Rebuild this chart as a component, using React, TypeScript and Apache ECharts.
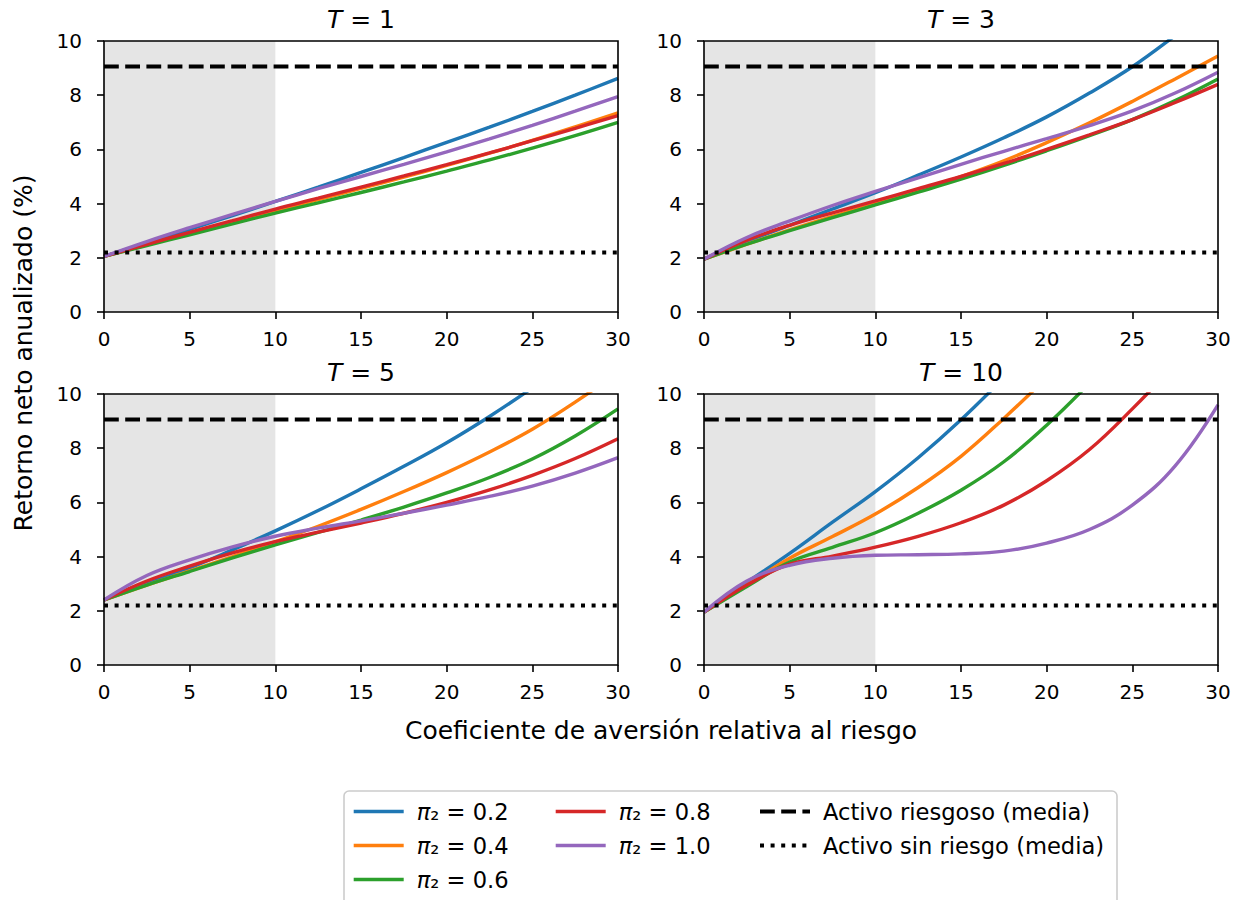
import React, { useEffect, useRef } from 'react';
import * as echarts from 'echarts';

const FONT = 'DejaVu Sans';

// x values (coeficiente de aversión relativa al riesgo)
const XS = [0, 2.5, 5, 7.5, 10, 12.5, 15, 17.5, 20, 22.5, 25, 27.5, 30];

const SERIES_NAMES = ['π₂ = 0.2', 'π₂ = 0.4', 'π₂ = 0.6', 'π₂ = 0.8', 'π₂ = 1.0'];
const COLORS = ['#1f77b4', '#ff7f0e', '#2ca02c', '#d62728', '#9467bd'];
const RISKY_NAME = 'Activo riesgoso (media)';
const RISKFREE_NAME = 'Activo sin riesgo (media)';
const RISKY_MEAN = 9.06;
const RISKFREE_MEAN = 2.2;
const PANEL_T = ['1', '3', '5', '10'];

// T = 1
const T1_P02 = [2.05, 2.55, 3.05, 3.56, 4.08, 4.61, 5.15, 5.7, 6.26, 6.82, 7.4, 8.0, 8.62];
const T1_P04 = [2.05, 2.48, 2.9, 3.32, 3.74, 4.15, 4.56, 4.98, 5.41, 5.86, 6.33, 6.83, 7.35];
const T1_P06 = [2.05, 2.45, 2.85, 3.25, 3.65, 4.03, 4.41, 4.8, 5.2, 5.61, 6.05, 6.51, 7.0];
const T1_P08 = [2.05, 2.5, 2.94, 3.37, 3.8, 4.2, 4.61, 5.02, 5.44, 5.87, 6.32, 6.78, 7.25];
const T1_P10 = [2.05, 2.6, 3.11, 3.6, 4.08, 4.55, 5.0, 5.45, 5.91, 6.39, 6.89, 7.41, 7.95];

// T = 3
const T3_P02 = [1.95, 2.6, 3.2, 3.8, 4.4, 5.05, 5.72, 6.43, 7.2, 8.08, 9.05, 10.2, 11.4];
const T3_P04 = [1.95, 2.5, 3.03, 3.53, 4.0, 4.48, 5.0, 5.58, 6.25, 6.98, 7.77, 8.6, 9.45];
const T3_P06 = [1.95, 2.5, 3.0, 3.48, 3.95, 4.42, 4.9, 5.41, 5.95, 6.51, 7.1, 7.8, 8.6];
const T3_P08 = [1.95, 2.65, 3.2, 3.66, 4.1, 4.55, 5.0, 5.48, 6.0, 6.54, 7.1, 7.73, 8.4];
const T3_P10 = [1.95, 2.75, 3.36, 3.93, 4.45, 4.95, 5.45, 5.93, 6.4, 6.88, 7.42, 8.08, 8.85];

// T = 5
const T5_P02 = [2.4, 3.0, 3.58, 4.25, 4.95, 5.7, 6.5, 7.33, 8.2, 9.17, 10.23, 11.4, null];
const T5_P04 = [2.4, 2.95, 3.47, 4.0, 4.55, 5.12, 5.74, 6.4, 7.1, 7.86, 8.7, 9.7, 10.8];
const T5_P06 = [2.4, 2.95, 3.45, 3.95, 4.43, 4.89, 5.35, 5.83, 6.35, 6.92, 7.6, 8.45, 9.45];
const T5_P08 = [2.4, 3.1, 3.65, 4.14, 4.55, 4.9, 5.24, 5.6, 6.0, 6.46, 7.0, 7.62, 8.35];
const T5_P10 = [2.4, 3.3, 3.88, 4.36, 4.75, 5.05, 5.32, 5.6, 5.9, 6.22, 6.6, 7.08, 7.65];

// T = 10
const T10_P02 = [1.95, 3.05, 4.12, 5.27, 6.4, 7.65, 9.05, 10.6, null, null, null, null, null];
const T10_P04 = [1.95, 2.95, 3.94, 4.74, 5.57, 6.55, 7.7, 9.1, 10.6, null, null, null, null];
const T10_P06 = [1.95, 2.9, 3.8, 4.34, 4.88, 5.6, 6.45, 7.5, 8.85, 10.4, null, null, null];
const T10_P08 = [1.95, 2.95, 3.72, 4.02, 4.35, 4.75, 5.25, 5.9, 6.8, 7.95, 9.45, 11.1, null];
const T10_P10 = [1.95, 3.1, 3.68, 3.94, 4.05, 4.07, 4.1, 4.2, 4.5, 5.0, 5.9, 7.35, 9.6];

const PANELS = [
  [T1_P02, T1_P04, T1_P06, T1_P08, T1_P10],
  [T3_P02, T3_P04, T3_P06, T3_P08, T3_P10],
  [T5_P02, T5_P04, T5_P06, T5_P08, T5_P10],
  [T10_P02, T10_P04, T10_P06, T10_P08, T10_P10],
];

const GRID_POS = [
  { left: 104, top: 41 },
  { left: 704, top: 41 },
  { left: 104, top: 394 },
  { left: 704, top: 394 },
];
const GRID_W = 514;
const GRID_H = 271;

function buildOption() {
  const grid = GRID_POS.map((p) => ({
    left: p.left,
    top: p.top,
    width: GRID_W,
    height: GRID_H,
    show: true,
    z: 3,
    borderColor: '#000',
    borderWidth: 1.6,
    backgroundColor: 'transparent',
    containLabel: false,
  }));
  const axisLabelStyle = { color: '#000', fontSize: 20, fontFamily: FONT };
  const xAxis = GRID_POS.map((_, i) => ({
    type: 'value',
    gridIndex: i,
    min: 0,
    max: 30,
    interval: 5,
    splitLine: { show: false },
    axisLine: { show: false },
    axisTick: { show: true, length: 7, lineStyle: { color: '#000', width: 1.6 } },
    axisLabel: { ...axisLabelStyle, margin: 17 },
  }));
  const yAxis = GRID_POS.map((_, i) => ({
    type: 'value',
    gridIndex: i,
    min: 0,
    max: 10,
    interval: 2,
    splitLine: { show: false },
    axisLine: { show: false },
    axisTick: { show: true, length: 7, lineStyle: { color: '#000', width: 1.6 } },
    axisLabel: { ...axisLabelStyle, margin: 22 },
  }));

  const series: any[] = [];
  PANELS.forEach((panel, g) => {
    series.push({
      type: 'line',
      name: 'shade',
      xAxisIndex: g,
      yAxisIndex: g,
      data: [],
      silent: true,
      z: 1,
      markArea: {
        silent: true,
        itemStyle: { color: '#e5e5e5' },
        data: [[{ xAxis: 0 }, { xAxis: 10 }]],
      },
    });
    panel.forEach((ys, k) => {
      series.push({
        type: 'line',
        name: SERIES_NAMES[k],
        xAxisIndex: g,
        yAxisIndex: g,
        symbol: 'none',
        smooth: 0.4,
        clip: true,
        z: 2,
        lineStyle: { color: COLORS[k], width: 3.4 },
        itemStyle: { color: COLORS[k] },
        data: XS.map((x, i) => [x, ys[i]]).filter((d) => d[1] !== null),
      });
    });
    series.push({
      type: 'line',
      name: RISKY_NAME,
      xAxisIndex: g,
      yAxisIndex: g,
      symbol: 'none',
      z: 2,
      lineStyle: { color: '#000', width: 4, type: [14.8, 6.4], cap: 'butt' },
      itemStyle: { color: '#000' },
      data: [[0, RISKY_MEAN], [30, RISKY_MEAN]],
    });
    series.push({
      type: 'line',
      name: RISKFREE_NAME,
      xAxisIndex: g,
      yAxisIndex: g,
      symbol: 'none',
      z: 2,
      lineStyle: { color: '#000', width: 4, type: [4, 6.6], cap: 'butt' },
      itemStyle: { color: '#000' },
      data: [[0, RISKFREE_MEAN], [30, RISKFREE_MEAN]],
    });
  });

  const legendCommon = {
    orient: 'vertical',
    top: 800,
    itemWidth: 50,
    itemHeight: 24,
    itemGap: 11,
    selectedMode: false,
    padding: 0,
    itemStyle: { opacity: 0, borderWidth: 0 },
    lineStyle: { width: 'inherit' },
    textStyle: {
      color: '#000',
      fontSize: 22.6,
      fontFamily: FONT,
      padding: [0, 0, 0, 8],
      rich: {
        i: { fontStyle: 'italic', fontSize: 22.6, fontFamily: FONT, color: '#000' },
      },
    },
    formatter: (name: string) =>
      name.startsWith('π') ? '{i|π}' + name.slice(1) : name,
  };
  const legend = [
    { ...legendCommon, left: 352, data: SERIES_NAMES.slice(0, 3) },
    { ...legendCommon, left: 554, data: SERIES_NAMES.slice(3, 5) },
    { ...legendCommon, left: 758, data: [RISKY_NAME, RISKFREE_NAME] },
  ];

  const titleEls = GRID_POS.map((p, i) => ({
    type: 'text',
    x: p.left + GRID_W / 2,
    y: p.top - 22,
    style: {
      text: '{i|T} = ' + PANEL_T[i],
      fontSize: 25,
      fontFamily: FONT,
      fill: '#000',
      align: 'center',
      verticalAlign: 'middle',
      rich: {
        i: { fontStyle: 'italic', fontSize: 25, fontFamily: FONT, fill: '#000' },
      },
    },
  }));

  const graphic = [
    ...titleEls,
    {
      type: 'text',
      x: 23,
      y: 353,
      rotation: Math.PI / 2,
      style: {
        text: 'Retorno neto anualizado (%)',
        fontSize: 25,
        fontFamily: FONT,
        fill: '#000',
        align: 'center',
        verticalAlign: 'middle',
      },
    },
    {
      type: 'text',
      x: 661,
      y: 730,
      style: {
        text: 'Coeficiente de aversión relativa al riesgo',
        fontSize: 25,
        fontFamily: FONT,
        fill: '#000',
        align: 'center',
        verticalAlign: 'middle',
      },
    },
    {
      type: 'rect',
      z: 1,
      shape: { x: 344, y: 791, width: 773, height: 118, r: 5 },
      style: { fill: 'rgba(255,255,255,0.8)', stroke: '#cccccc', lineWidth: 1.6 },
    },
  ];

  return {
    animation: false,
    backgroundColor: '#fff',
    grid,
    xAxis,
    yAxis,
    legend,
    graphic,
    series,
  };
}

export default function App() {
  const ref = useRef<HTMLDivElement>(null);
  useEffect(() => {
    if (!ref.current) return;
    const chart = echarts.init(ref.current, undefined, { renderer: 'svg' });
    chart.setOption(buildOption() as any);
    return () => chart.dispose();
  }, []);
  return (
    <div
      ref={ref}
      style={{ position: 'absolute', left: 0, top: 0, width: 1244, height: 900 }}
    />
  );
}
